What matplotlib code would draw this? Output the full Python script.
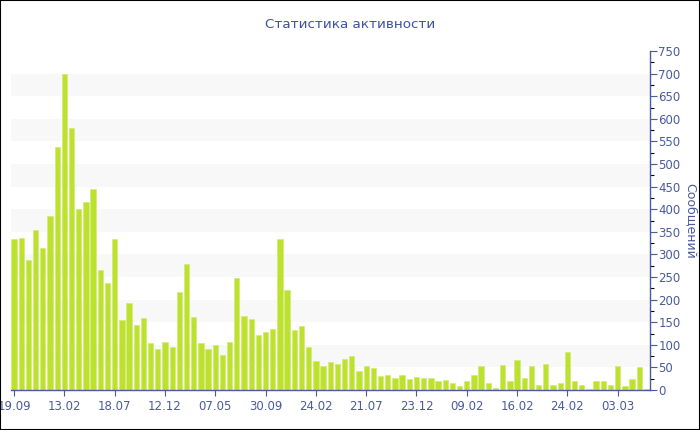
import numpy as np
import matplotlib
matplotlib.use("Agg")
import matplotlib.pyplot as plt
from matplotlib.patches import Rectangle

# messages per period
counts = [
    334, 336, 288, 355, 314, 386, 537, 699, 580, 401,
    415, 444, 265, 237, 334, 154, 193, 144, 160, 105,
    90, 107, 96, 216, 278, 161, 103, 91, 100, 77,
    106, 247, 164, 156, 122, 128, 136, 333, 221, 133,
    142, 96, 65, 52, 62, 58, 69, 75, 41, 52,
    49, 32, 33, 27, 34, 24, 29, 27, 27, 20,
    22, 16, 9, 21, 33, 52, 15, 4, 55, 20,
    66, 26, 54, 10, 57, 10, 16, 83, 19, 10,
    3, 20, 21, 12, 53, 9, 24, 50, 3,
]
tick_labels = ["19.09", "13.02", "18.07", "12.12", "07.05", "30.09", "24.02",
               "21.07", "23.12", "09.02", "16.02", "24.02", "03.03"]
tick_step = 7

axis_color = "#4a5a9c"
title_color = "#3f51a0"
bar_color = "#bde12f"

fig = plt.figure(figsize=(7, 4.3), dpi=100)
ax = fig.add_axes([10.5 / 700, 40 / 430, 639.5 / 700, 339 / 430])

x = np.arange(len(counts))

# alternating light bands
for lo in range(50, 750, 100):
    ax.axhspan(lo, lo + 50, color="#f8f8f8", lw=0, zorder=0)

ax.bar(x, counts, width=0.74, color=bar_color, edgecolor="#d3ec74",
       linewidth=0.5, zorder=2)

ax.set_xlim(-0.5, len(counts) - 0.5)
ax.set_ylim(0, 750)

ax.set_xticks(x[::tick_step][:len(tick_labels)])
ax.set_xticklabels(tick_labels)
ax.set_yticks(np.arange(0, 751, 50))
ax.set_yticks(np.arange(0, 751, 25), minor=True)

ax.yaxis.tick_right()
ax.yaxis.set_label_position("right")
ax.tick_params(axis="both", colors=axis_color, labelsize=8.5, direction="out")
ax.tick_params(axis="y", which="major", length=5, width=0.8, pad=1)
ax.tick_params(axis="y", which="minor", length=3, width=0.8)
ax.tick_params(axis="x", length=4, width=0.8, pad=3)

for side in ["left", "top"]:
    ax.spines[side].set_visible(False)
for side in ["right", "bottom"]:
    ax.spines[side].set_color(axis_color)
    ax.spines[side].set_linewidth(1.0)

ax.set_ylabel("Сообщений", color=axis_color, fontsize=9, rotation=270,
              labelpad=12)
fig.text(0.5, 1 - 25 / 430, "Статистика активности", color=title_color,
         fontsize=9.7, ha="center", va="center")

# black frame around the whole picture
fig.patches.append(Rectangle((0, 0), 1, 1, transform=fig.transFigure,
                             fill=False, edgecolor="black", linewidth=1.5))

fig.savefig("out.png", dpi=100)
